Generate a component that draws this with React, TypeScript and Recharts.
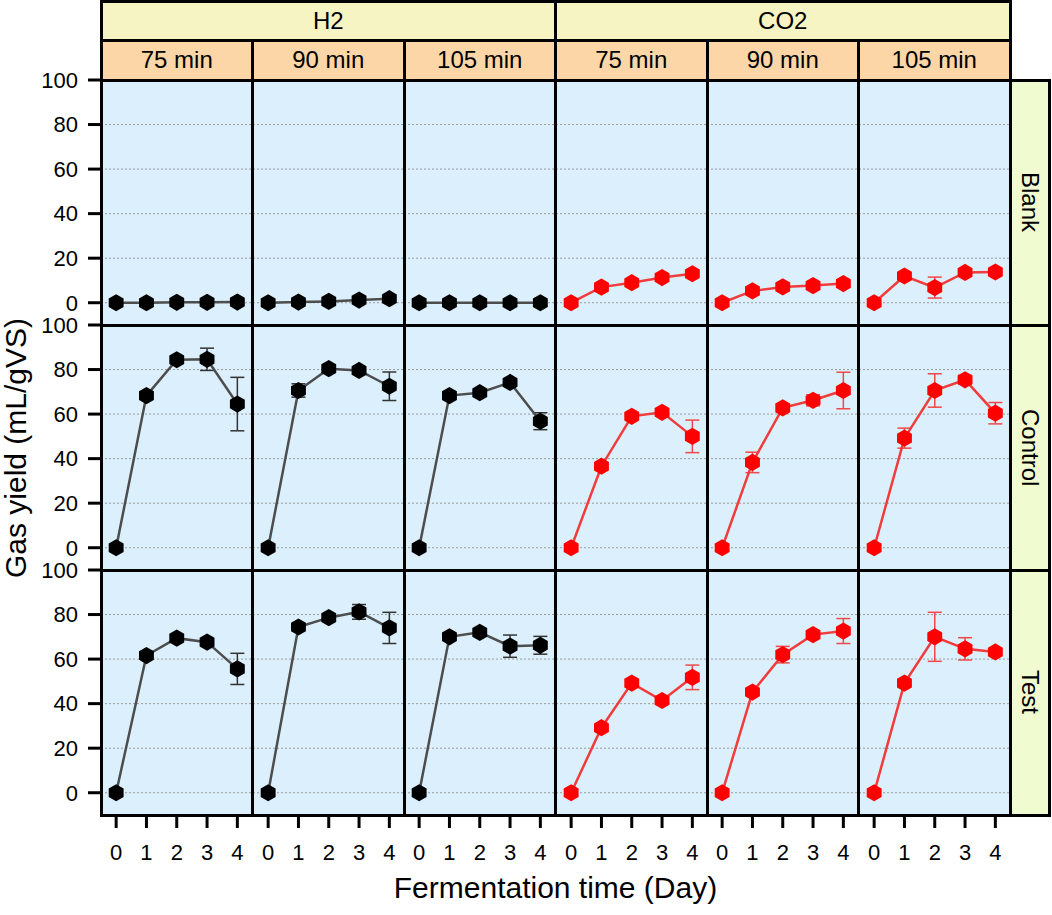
import { LineChart, Line, XAxis, YAxis, CartesianGrid, ErrorBar } from "recharts";

const days = [0, 1, 2, 3, 4];
const gases = ["H2", "CO2"];
const durations = ["75 min", "90 min", "105 min"];
const treatments = ["Blank", "Control", "Test"];
const yTicks = [0, 20, 40, 60, 80, 100];

// Blank
const h2Blank75 = [0, 0, 0.2, 0.2, 0.3];
const h2Blank90 = [0, 0.3, 0.6, 1.2, 1.8];
const h2Blank105 = [0, 0, 0, 0, 0];
const co2Blank75 = [0, 7, 9, 11.3, 13];
const co2Blank90 = [0, 5.3, 7.1, 7.7, 8.6];
const co2Blank105 = [0, 12, 6.8, 13.6, 13.8];
const h2Blank75Err = [null, null, null, null, null];
const h2Blank90Err = [null, null, null, null, null];
const h2Blank105Err = [null, null, null, null, null];
const co2Blank75Err = [null, null, null, null, null];
const co2Blank90Err = [null, null, null, null, null];
const co2Blank105Err = [null, null, 4.7, null, null];

// Control
const h2Control75 = [0, 68.3, 84.4, 84.6, 64.5];
const h2Control90 = [0, 70.6, 80.4, 79.6, 72.5];
const h2Control105 = [0, 68.3, 69.6, 74.2, 56.8];
const co2Control75 = [0, 36.6, 59, 60.8, 50];
const co2Control90 = [0, 38.3, 62.8, 66.2, 70.6];
const co2Control105 = [0, 49.2, 70.6, 75.4, 60.4];
const h2Control75Err = [null, null, null, 5, 12];
const h2Control90Err = [null, 3, null, null, 6.4];
const h2Control105Err = [null, null, null, null, 3.8];
const co2Control75Err = [null, null, null, null, 7.3];
const co2Control90Err = [null, 4.6, null, 2.5, 8.2];
const co2Control105Err = [null, 4.5, 7.5, 2, 4.8];

// Test
const h2Test75 = [0, 61.6, 69.4, 67.6, 55.6];
const h2Test90 = [0, 74.4, 78.6, 81.2, 74];
const h2Test105 = [0, 70, 72, 65.8, 66.2];
const co2Test75 = [0, 29.2, 49.2, 41.4, 51.8];
const co2Test90 = [0, 45.2, 62, 71, 72.6];
const co2Test105 = [0, 49.2, 70, 64.6, 63.2];
const h2Test75Err = [null, null, null, null, 7];
const h2Test90Err = [null, null, null, 3.3, 7];
const h2Test105Err = [null, null, null, 5, 4];
const co2Test75Err = [null, null, null, null, 5.5];
const co2Test90Err = [null, null, 3.7, null, 5.6];
const co2Test105Err = [null, null, 11, 5, null];

const valueGrid = [
  [h2Blank75, h2Blank90, h2Blank105, co2Blank75, co2Blank90, co2Blank105],
  [h2Control75, h2Control90, h2Control105, co2Control75, co2Control90, co2Control105],
  [h2Test75, h2Test90, h2Test105, co2Test75, co2Test90, co2Test105],
];
const errorGrid = [
  [h2Blank75Err, h2Blank90Err, h2Blank105Err, co2Blank75Err, co2Blank90Err, co2Blank105Err],
  [h2Control75Err, h2Control90Err, h2Control105Err, co2Control75Err, co2Control90Err, co2Control105Err],
  [h2Test75Err, h2Test90Err, h2Test105Err, co2Test75Err, co2Test90Err, co2Test105Err],
];

const FONT = "'Liberation Sans', Arial, sans-serif";
const LEFT = 101;
const TOP = 80;
const COL_W = 151.5;
const ROW_H = 245;
const Y_W = 70;
const X_H = 60;
const PAD_TOP = 14; // room above the left axis so the "100" label is not clipped

const panelBg = "#dbf0fc";
const gasStripBg = "#f6f4c3";
const durStripBg = "#fdd6a7";
const rowStripBg = "#f0fbcf";

const gasStyle = {
  H2: { line: "#4d4d4d", marker: "#000000", err: "#333333" },
  CO2: { line: "#f03c3c", marker: "#ff0000", err: "#f04848" },
};

function Hexagon(props: any) {
  const { cx, cy, fill } = props;
  if (cx == null || cy == null) return null;
  const r = 8.6;
  const pts = [0, 1, 2, 3, 4, 5]
    .map((i) => {
      const a = (Math.PI / 3) * i - Math.PI / 2;
      return `${cx + r * Math.cos(a)},${cy + r * Math.sin(a)}`;
    })
    .join(" ");
  return <polygon points={pts} fill={fill} />;
}

function Panel({ r, c }: { r: number; c: number }) {
  const gas = c < 3 ? "H2" : "CO2";
  const st = gasStyle[gas];
  const vals = valueGrid[r][c];
  const errs = errorGrid[r][c];
  const data = days.map((d, i) => ({ day: d, y: vals[i], err: errs[i] }));
  const showY = c === 0;
  const showX = r === 2;
  const padTop = showY ? PAD_TOP : 0;
  const w = COL_W + (showY ? Y_W : 0);
  const h = ROW_H + (showX ? X_H : 0) + padTop;
  return (
    <div
      style={{
        position: "absolute",
        left: LEFT + c * COL_W - (showY ? Y_W : 0),
        top: TOP + r * ROW_H - padTop,
      }}
    >
      <LineChart width={w} height={h} data={data} margin={{ top: padTop, right: 0, bottom: 0, left: 0 }}>
        <CartesianGrid
          vertical={false}
          fill={panelBg}
          fillOpacity={1}
          stroke="#9b9b9b"
          strokeDasharray="2 2"
        />
        <XAxis
          dataKey="day"
          type="number"
          domain={[-0.5, 4.5]}
          ticks={days}
          allowDataOverflow
          hide={!showX}
          height={X_H}
          axisLine={false}
          tickSize={13}
          tickMargin={16}
          tickLine={{ stroke: "#000", strokeWidth: 3 }}
          tick={{ fontSize: 22, fill: "#000", fontFamily: FONT }}
          interval={0}
        />
        <YAxis
          type="number"
          domain={[-10, 100]}
          ticks={yTicks}
          allowDataOverflow
          hide={!showY}
          width={Y_W}
          axisLine={false}
          tickSize={13}
          tickMargin={10}
          tickLine={{ stroke: "#000", strokeWidth: 3 }}
          tick={{ fontSize: 22, fill: "#000", fontFamily: FONT }}
          interval={0}
        />
        <Line
          type="linear"
          dataKey="y"
          stroke={st.line}
          strokeWidth={2.5}
          isAnimationActive={false}
          activeDot={false}
          dot={(p: any) => <Hexagon key={`d${p.index}`} cx={p.cx} cy={p.cy} fill={st.marker} />}
        >
          <ErrorBar dataKey="err" direction="y" width={7} stroke={st.err} strokeWidth={1.5} isAnimationActive={false} />
        </Line>
      </LineChart>
    </div>
  );
}

function Box({ left, top, width, height, bg, children, vertical }: any) {
  return (
    <div
      style={{
        position: "absolute",
        left: left - 1.5,
        top: top - 1.5,
        width: width + 3,
        height: height + 3,
        border: "3px solid #000",
        boxSizing: "border-box",
        background: bg,
        display: "flex",
        alignItems: "center",
        justifyContent: "center",
        fontSize: 24,
        fontFamily: FONT,
        color: "#000",
        pointerEvents: "none",
        writingMode: vertical ? "vertical-rl" : undefined,
      }}
    >
      {children}
    </div>
  );
}

export default function App() {
  const cells = [];
  for (let r = 0; r < 3; r++) for (let c = 0; c < 6; c++) cells.push({ r, c });
  return (
    <div
      style={{
        position: "absolute",
        left: 0,
        top: 0,
        width: 1052,
        height: 915,
        background: "#fff",
        fontFamily: FONT,
        overflow: "hidden",
      }}
    >
      {cells.map(({ r, c }) => (
        <Panel key={`p${r}-${c}`} r={r} c={c} />
      ))}
      {cells.map(({ r, c }) => (
        <Box
          key={`f${r}-${c}`}
          left={LEFT + c * COL_W}
          top={TOP + r * ROW_H}
          width={COL_W}
          height={ROW_H}
          bg="transparent"
        />
      ))}
      {gases.map((g, i) => (
        <Box key={g} left={LEFT + i * 3 * COL_W} top={1.5} width={3 * COL_W} height={38.5} bg={gasStripBg}>
          {g}
        </Box>
      ))}
      {[0, 1, 2, 3, 4, 5].map((c) => (
        <Box key={`d${c}`} left={LEFT + c * COL_W} top={40} width={COL_W} height={40} bg={durStripBg}>
          {durations[c % 3]}
        </Box>
      ))}
      {treatments.map((t, r) => (
        <Box key={t} left={LEFT + 6 * COL_W} top={TOP + r * ROW_H} width={39} height={ROW_H} bg={rowStripBg} vertical>
          {t}
        </Box>
      ))}
      <div
        style={{
          position: "absolute",
          left: 15.5,
          top: TOP + 1.5 * ROW_H,
          transform: "translate(-50%, -50%) rotate(-90deg)",
          whiteSpace: "nowrap",
          fontSize: 30,
          lineHeight: "30px",
        }}
      >
        Gas yield (mL/gVS)
      </div>
      <div
        style={{
          position: "absolute",
          left: LEFT + 3 * COL_W,
          top: 871,
          transform: "translateX(-50%)",
          whiteSpace: "nowrap",
          fontSize: 30,
        }}
      >
        Fermentation time (Day)
      </div>
    </div>
  );
}
